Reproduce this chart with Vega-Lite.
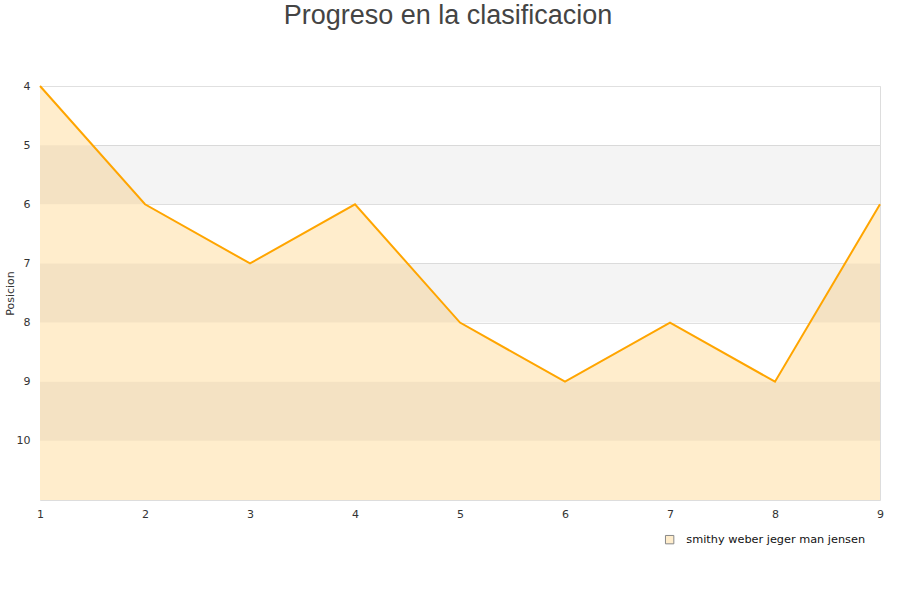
{
  "$schema": "https://vega.github.io/schema/vega-lite/v6.json",
  "width": 840,
  "height": 414,
  "autosize": {"type": "none"},
  "padding": {"left": 40, "top": 86, "right": 20, "bottom": 100},
  "background": "white",
  "title": {
    "text": "Progreso en la clasificacion",
    "font": "Liberation Sans",
    "fontSize": 27,
    "fontWeight": "normal",
    "color": "#444444",
    "anchor": "middle",
    "frame": "group",
    "dx": -12,
    "offset": 50
  },
  "config": {
    "view": {"stroke": "#dddddd", "strokeWidth": 1},
    "axis": {
      "labelFont": "DejaVu Sans",
      "labelFontSize": 11,
      "labelColor": "#333333",
      "titleFont": "DejaVu Sans",
      "titleFontSize": 11,
      "titleFontWeight": "normal",
      "titleColor": "#333333",
      "domain": false,
      "ticks": false,
      "gridColor": "#e0e0e0"
    }
  },
  "datasets": {
    "serie": [
      {"jornada": 1, "posicion": 4, "equipo": "smithy weber jeger man jensen"},
      {"jornada": 2, "posicion": 6, "equipo": "smithy weber jeger man jensen"},
      {"jornada": 3, "posicion": 7, "equipo": "smithy weber jeger man jensen"},
      {"jornada": 4, "posicion": 6, "equipo": "smithy weber jeger man jensen"},
      {"jornada": 5, "posicion": 8, "equipo": "smithy weber jeger man jensen"},
      {"jornada": 6, "posicion": 9, "equipo": "smithy weber jeger man jensen"},
      {"jornada": 7, "posicion": 8, "equipo": "smithy weber jeger man jensen"},
      {"jornada": 8, "posicion": 9, "equipo": "smithy weber jeger man jensen"},
      {"jornada": 9, "posicion": 6, "equipo": "smithy weber jeger man jensen"}
    ],
    "bandas": [
      {"desde": 5, "hasta": 6},
      {"desde": 7, "hasta": 8},
      {"desde": 9, "hasta": 10}
    ]
  },
  "layer": [
    {
      "data": {"name": "serie"},
      "mark": {"type": "area", "opacity": 1},
      "encoding": {
        "x": {
          "field": "jornada", "type": "quantitative",
          "scale": {"domain": [1, 9], "nice": false},
          "axis": {"values": [1,2,3,4,5,6,7,8,9], "format": "d", "title": null, "grid": false, "labelPadding": 8, "labelFlush": false}
        },
        "y": {
          "field": "posicion", "type": "quantitative",
          "scale": {"domain": [4, 11], "reverse": true, "nice": false, "zero": false},
          "axis": {"values": [4,5,6,7,8,9,10], "format": "d", "title": "Posicion", "grid": true, "labelPadding": 10, "titleX": -30, "titleY": 207, "titleAngle": 270, "titleAlign": "center", "titleBaseline": "middle"}
        },
        "y2": {"datum": 11},
        "fill": {
          "field": "equipo", "type": "nominal",
          "scale": {"range": ["#FFEDCC"]},
          "legend": {
            "title": null,
            "orient": "none",
            "legendX": 624,
            "legendY": 448,
            "symbolType": "square",
            "symbolSize": 70,
            "symbolStrokeColor": "#888888",
            "symbolStrokeWidth": 1,
            "labelOffset": 11,
            "labelLimit": 400,
            "labelFont": "DejaVu Sans",
            "labelFontSize": 11.3,
            "labelColor": "#111111"
          }
        }
      }
    },
    {
      "data": {"name": "bandas"},
      "mark": {"type": "rect", "color": "black", "opacity": 0.045},
      "encoding": {
        "y": {"field": "desde", "type": "quantitative"},
        "y2": {"field": "hasta"},
        "x": {"datum": 1},
        "x2": {"datum": 9}
      }
    },
    {
      "data": {"name": "serie"},
      "mark": {"type": "line", "color": "#FFA500", "strokeWidth": 2},
      "encoding": {
        "x": {"field": "jornada", "type": "quantitative"},
        "y": {"field": "posicion", "type": "quantitative"}
      }
    }
  ]
}
